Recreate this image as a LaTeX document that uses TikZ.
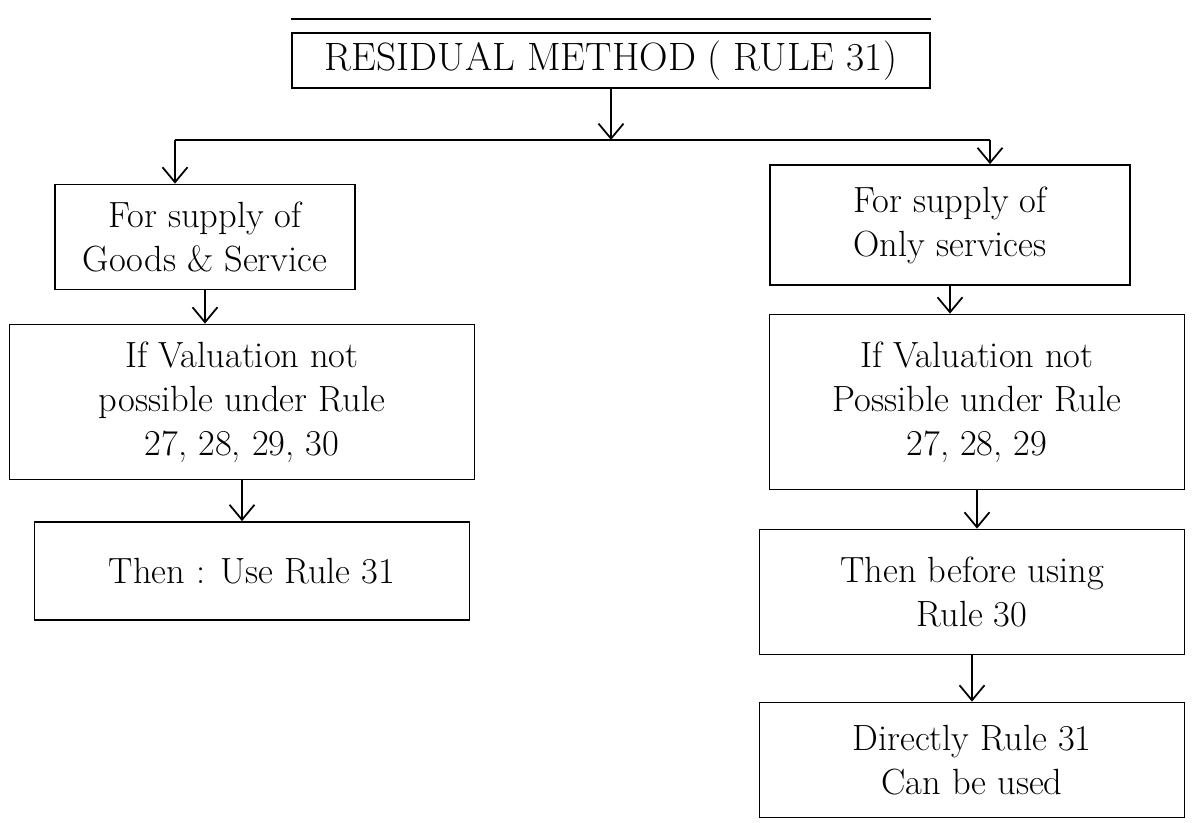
\documentclass[tikz,border=0pt]{standalone}
\usepackage{amsmath,amssymb}
\usetikzlibrary{arrows.meta,positioning}
\tikzset{
  boite/.style={draw, line width=1pt, align=center, font=\huge, inner sep=4pt},
  fleche/.style={line width=1pt, -{Straight Barb[length=3mm,width=5mm]}}
}

\begin{document}
\begin{tikzpicture}
    \useasboundingbox (0,0) rectangle (23.96,16.44);
    % Titre
    \node[boite, font=\fontsize{22.5}{27}\selectfont, minimum width=12.76cm, minimum height=1.1cm] (titre) at (12.22,15.23) {RESIDUAL METHOD ( RULE 31)};
    \draw[line width=1pt] ([yshift=0.26cm]titre.north west) -- ([yshift=0.26cm]titre.north east);
    % Colonne de gauche
    \node[boite, minimum width=6cm, minimum height=2.1cm] (biens) at (4.10,11.70) {For supply of\\Goods \& Service};
    \node[boite, minimum width=9.3cm, minimum height=3.1cm] (condG) at (4.84,8.40) {If Valuation not\\possible under Rule\\27, 28, 29, 30};
    \node[boite, minimum width=8.7cm, minimum height=1.96cm] (regleG) at (5.04,5.02) {Then : Use Rule 31};
    % Colonne de droite
    \node[boite, minimum width=7.2cm, minimum height=2.4cm] (services) at (19.0,11.94) {For supply of\\Only services};
    \node[boite, minimum width=8.3cm, minimum height=3.5cm] (condD) at (19.54,8.40) {If Valuation not\\Possible under Rule\\27, 28, 29};
    \node[boite, minimum width=8.5cm, minimum height=2.5cm] (avantD) at (19.44,4.60) {Then before using\\Rule 30};
    \node[boite, minimum width=8.5cm, minimum height=2.3cm] (regleD) at (19.44,1.24) {Directly Rule 31\\Can be used};
    % Liaisons
    \coordinate (jg) at (3.5,13.64);
    \coordinate (jd) at (19.8,13.64);
    \draw[fleche] (titre.south) -- (titre.south |- jg);
    \draw[line width=1pt] (jg) -- (jd);
    \draw[fleche] (jg) -- (jg |- biens.north);
    \draw[fleche] (jd) -- (jd |- services.north);
    \draw[fleche] (biens.south) -- (biens.south |- condG.north);
    \draw[fleche] (condG.south) -- (condG.south |- regleG.north);
    \draw[fleche] (services.south) -- (services.south |- condD.north);
    \draw[fleche] (condD.south) -- (condD.south |- avantD.north);
    \draw[fleche] (avantD.south) -- (avantD.south |- regleD.north);
\end{tikzpicture}
\end{document}
